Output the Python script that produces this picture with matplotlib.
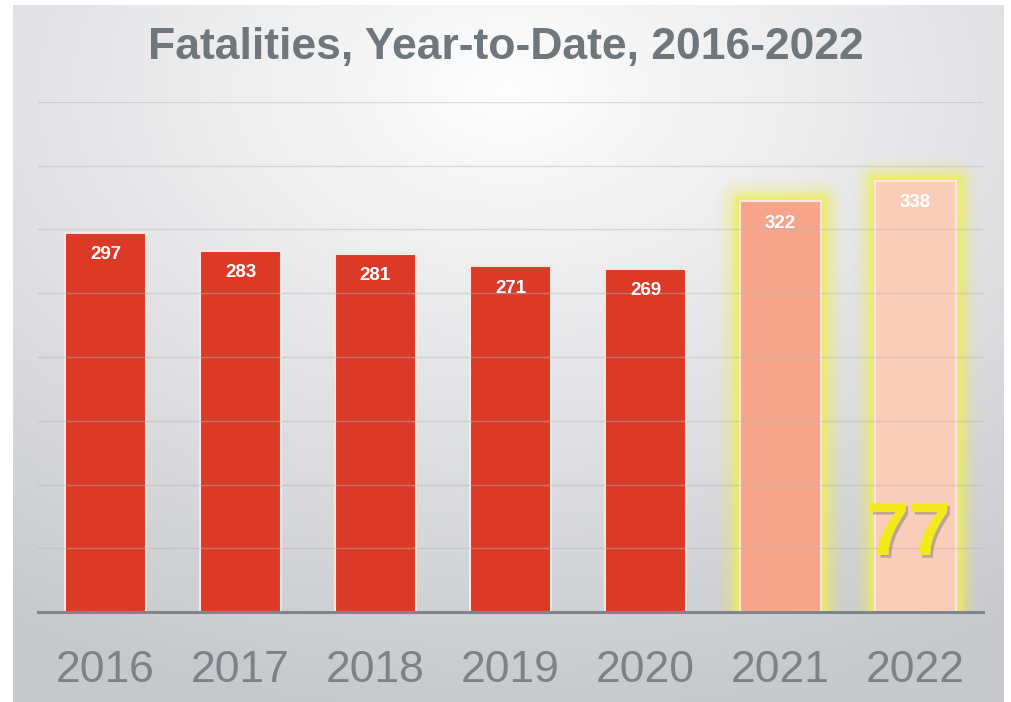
import numpy as np
import matplotlib
matplotlib.use("Agg")
import matplotlib.pyplot as plt
import matplotlib.patheffects as pe

years = ["2016", "2017", "2018", "2019", "2020", "2021", "2022"]
fatalities = [297, 283, 281, 271, 269, 322, 338]
bar_colors = ["#DC3A26"] * 5 + ["#F6A58B", "#FACDBA"]
highlight = [False] * 5 + [True, True]
ytd_label = "77"

plt.rcParams["font.family"] = ["Liberation Sans", "DejaVu Sans"]

W, H = 1011, 702
fig = plt.figure(figsize=(W / 100, H / 100), dpi=100, facecolor="white")

# gradient panel behind the chart
bg = fig.add_axes([13 / W, 0, (1004 - 13) / W, 1 - 5 / H], zorder=0)
yy, xx = np.mgrid[0:1:300j, 0:1:400j]
r = np.sqrt(((xx - 0.5) * 1.0) ** 2 + ((yy - 0.12) * 1.05) ** 2)
r = np.clip(r / 0.95, 0, 1)
top = np.array([0.995, 0.995, 0.995])
bot = np.array([0.78, 0.785, 0.80])
img = top[None, None, :] * (1 - r[..., None]) + bot[None, None, :] * r[..., None]
bg.imshow(img, aspect="auto", extent=[0, 1, 1, 0], interpolation="bilinear")
bg.axis("off")

left, right = 38 / W, 983 / W
y0, y1 = 1 - 612 / H, 1 - 102 / H
ax = fig.add_axes([left, y0, right - left, y1 - y0], zorder=1)
ax.set_facecolor("none")
ax.set_xlim(-0.5, 6.5)
ax.set_ylim(0, 400)

x = np.arange(len(years))
width = 0.6

# yellow glow around highlighted bars
for xi, v, h in zip(x, fatalities, highlight):
    if not h:
        continue
    for lw, a in [(32, 0.07), (26, 0.1), (20, 0.17), (14, 0.3), (9, 0.5), (4, 0.7)]:
        ax.bar(xi, v, width=width, color="#F0EC60", alpha=a, edgecolor="#F0EC60",
               linewidth=lw, zorder=1, joinstyle="round")

ax.bar(x, fatalities, width=width, color=bar_colors, edgecolor="#FBE6DF",
       linewidth=1.5, zorder=2)

for gy in range(50, 401, 50):
    ax.axhline(gy, color="#b5b8bb", linewidth=1.0, alpha=0.45, zorder=3)
ax.axhline(0, color="#7d868b", linewidth=2.2, zorder=4, clip_on=False)

for xi, v in zip(x, fatalities):
    ax.text(xi, v - 17, str(v), ha="center", va="center", color="white",
            fontsize=13.5, fontweight="bold", zorder=5)

ax.text(x[-1] - 0.05, 60, ytd_label, ha="center", va="center", color="#F2EA1A",
        fontsize=54, fontweight="bold", zorder=6,
        path_effects=[pe.withSimplePatchShadow(offset=(2, -2), shadow_rgbFace="#555555", alpha=0.35),
                      pe.Normal()])

ax.set_xticks(x)
ax.set_xticklabels(years, fontsize=32, color="#7b8388")
ax.tick_params(axis="x", length=0, pad=27)
ax.set_yticks([])
for s in ax.spines.values():
    s.set_visible(False)

fig.text(0.5, 1 - 48 / H, "Fatalities, Year-to-Date, 2016-2022", ha="center", va="center",
         fontsize=32, fontweight="bold", color="#6f777c")

fig.savefig("out.png", dpi=100, facecolor="white")
